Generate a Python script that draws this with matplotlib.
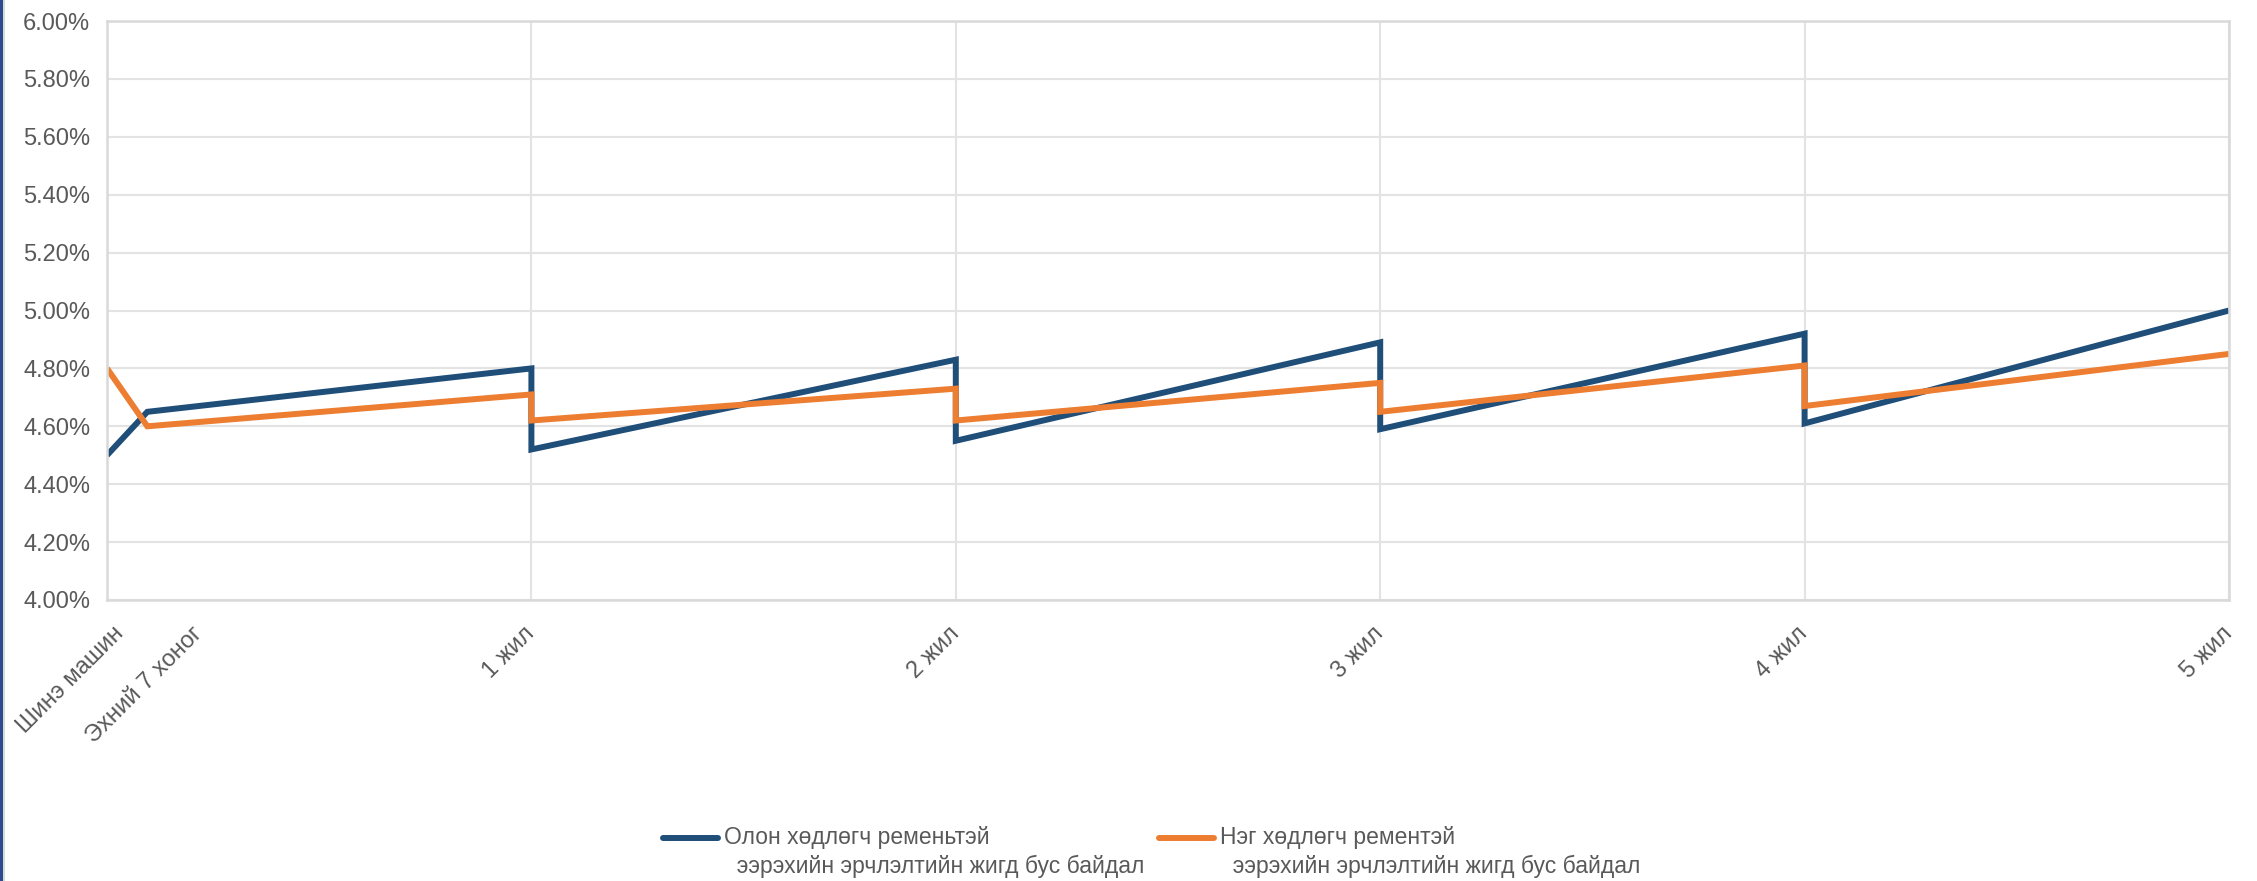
import matplotlib
matplotlib.use("Agg")
import matplotlib.pyplot as plt
import matplotlib.transforms as mtransforms
from matplotlib.legend_handler import HandlerLine2D
from matplotlib.patches import Rectangle

# x positions in years
x_vals = [0, 0.095, 1, 1, 2, 2, 3, 3, 4, 4, 5]
multi_belt = [4.50, 4.65, 4.80, 4.52, 4.83, 4.55, 4.89, 4.59, 4.92, 4.61, 5.00]
single_belt = [4.80, 4.60, 4.71, 4.62, 4.73, 4.62, 4.75, 4.65, 4.81, 4.67, 4.85]

tick_pos = [0, 0.095, 1, 2, 3, 4, 5]
tick_labels = ["Шинэ машин", "Эхний 7 хоног", "1 жил", "2 жил", "3 жил", "4 жил", "5 жил"]

label_multi = "Олон хөдлөгч ременьтэй\n  ээрэхийн эрчлэлтийн жигд бус байдал"
label_single = "Нэг хөдлөгч рементэй\n  ээрэхийн эрчлэлтийн жигд бус байдал"

BLUE = "#1f4e79"
ORANGE = "#ed7d31"
TEXT = "#595959"
GRID = "#e3e3e3"

plt.rcParams['font.family'] = ['Liberation Sans', 'DejaVu Sans']


class FirstLineHandler(HandlerLine2D):
    # put the legend line next to the first text row, like Excel does
    def create_artists(self, legend, orig_handle, xdescent, ydescent,
                       width, height, fontsize, trans):
        arts = super().create_artists(legend, orig_handle, xdescent, ydescent,
                                      width, height, fontsize, trans)
        for a in arts:
            a.set_ydata([y + 0.68 * fontsize for y in a.get_ydata()])
        return arts


fig = plt.figure(figsize=(22.57, 8.81), dpi=100)
ax = fig.add_axes([107 / 2257, 1 - 600 / 881, (2229 - 107) / 2257, (600 - 21) / 881])

ax.plot(x_vals, multi_belt, color=BLUE, lw=4.3, label=label_multi,
        solid_joinstyle="miter", solid_capstyle="butt")
ax.plot(x_vals, single_belt, color=ORANGE, lw=4.3, label=label_single,
        solid_joinstyle="miter", solid_capstyle="butt")

ax.set_xlim(0, 5)
ax.set_ylim(4.0, 6.0)
ax.set_yticks([4.0 + 0.2 * i for i in range(11)])
ax.yaxis.set_major_formatter(plt.FuncFormatter(lambda v, p: f"{v:.2f}%"))
ax.tick_params(axis="y", length=0, pad=12, labelsize=17, labelcolor=TEXT)

ax.set_xticks(tick_pos)
ax.set_xticklabels(tick_labels, rotation=45, ha="right", va="center",
                   rotation_mode="anchor", fontsize=17, color=TEXT)
ax.tick_params(axis="x", length=0, pad=22)

# Excel nudges the first two crowded labels to the right
shifts = [13, 52]
for lbl, dx in zip(ax.get_xticklabels()[:2], shifts):
    lbl.set_transform(lbl.get_transform() +
                      mtransforms.ScaledTranslation(dx / 100, 0, fig.dpi_scale_trans))

ax.grid(True, color=GRID, lw=1.5)
for gl in ax.get_xgridlines()[:2]:
    gl.set_visible(False)
ax.set_axisbelow(True)
for s in ax.spines.values():
    s.set_color("#d9d9d9")
    s.set_linewidth(1.8)

leg = fig.legend(handler_map={plt.Line2D: FirstLineHandler()},
                 loc="upper left", bbox_to_anchor=(652 / 2257, 1 - 815 / 881),
                 ncol=2, frameon=False, fontsize=16.5, handlelength=2.4,
                 handletextpad=0.25, columnspacing=0.65, borderpad=0,
                 labelspacing=0.2)
for t in leg.get_texts():
    t.set_color(TEXT)
    t.set_linespacing(1.3)
for l in leg.get_lines():
    l.set_linewidth(4.3)
    l.set_solid_capstyle("round")

# dark frame edge on the left of the picture
fig.add_artist(Rectangle((0, 0), 3 / 2257, 1, transform=fig.transFigure,
                         color="#2c4a8c", lw=0))
fig.add_artist(Rectangle((3 / 2257, 0), 2 / 2257, 1, transform=fig.transFigure,
                         color="#d9d9d9", lw=0))

fig.savefig("out.png", dpi=100)
